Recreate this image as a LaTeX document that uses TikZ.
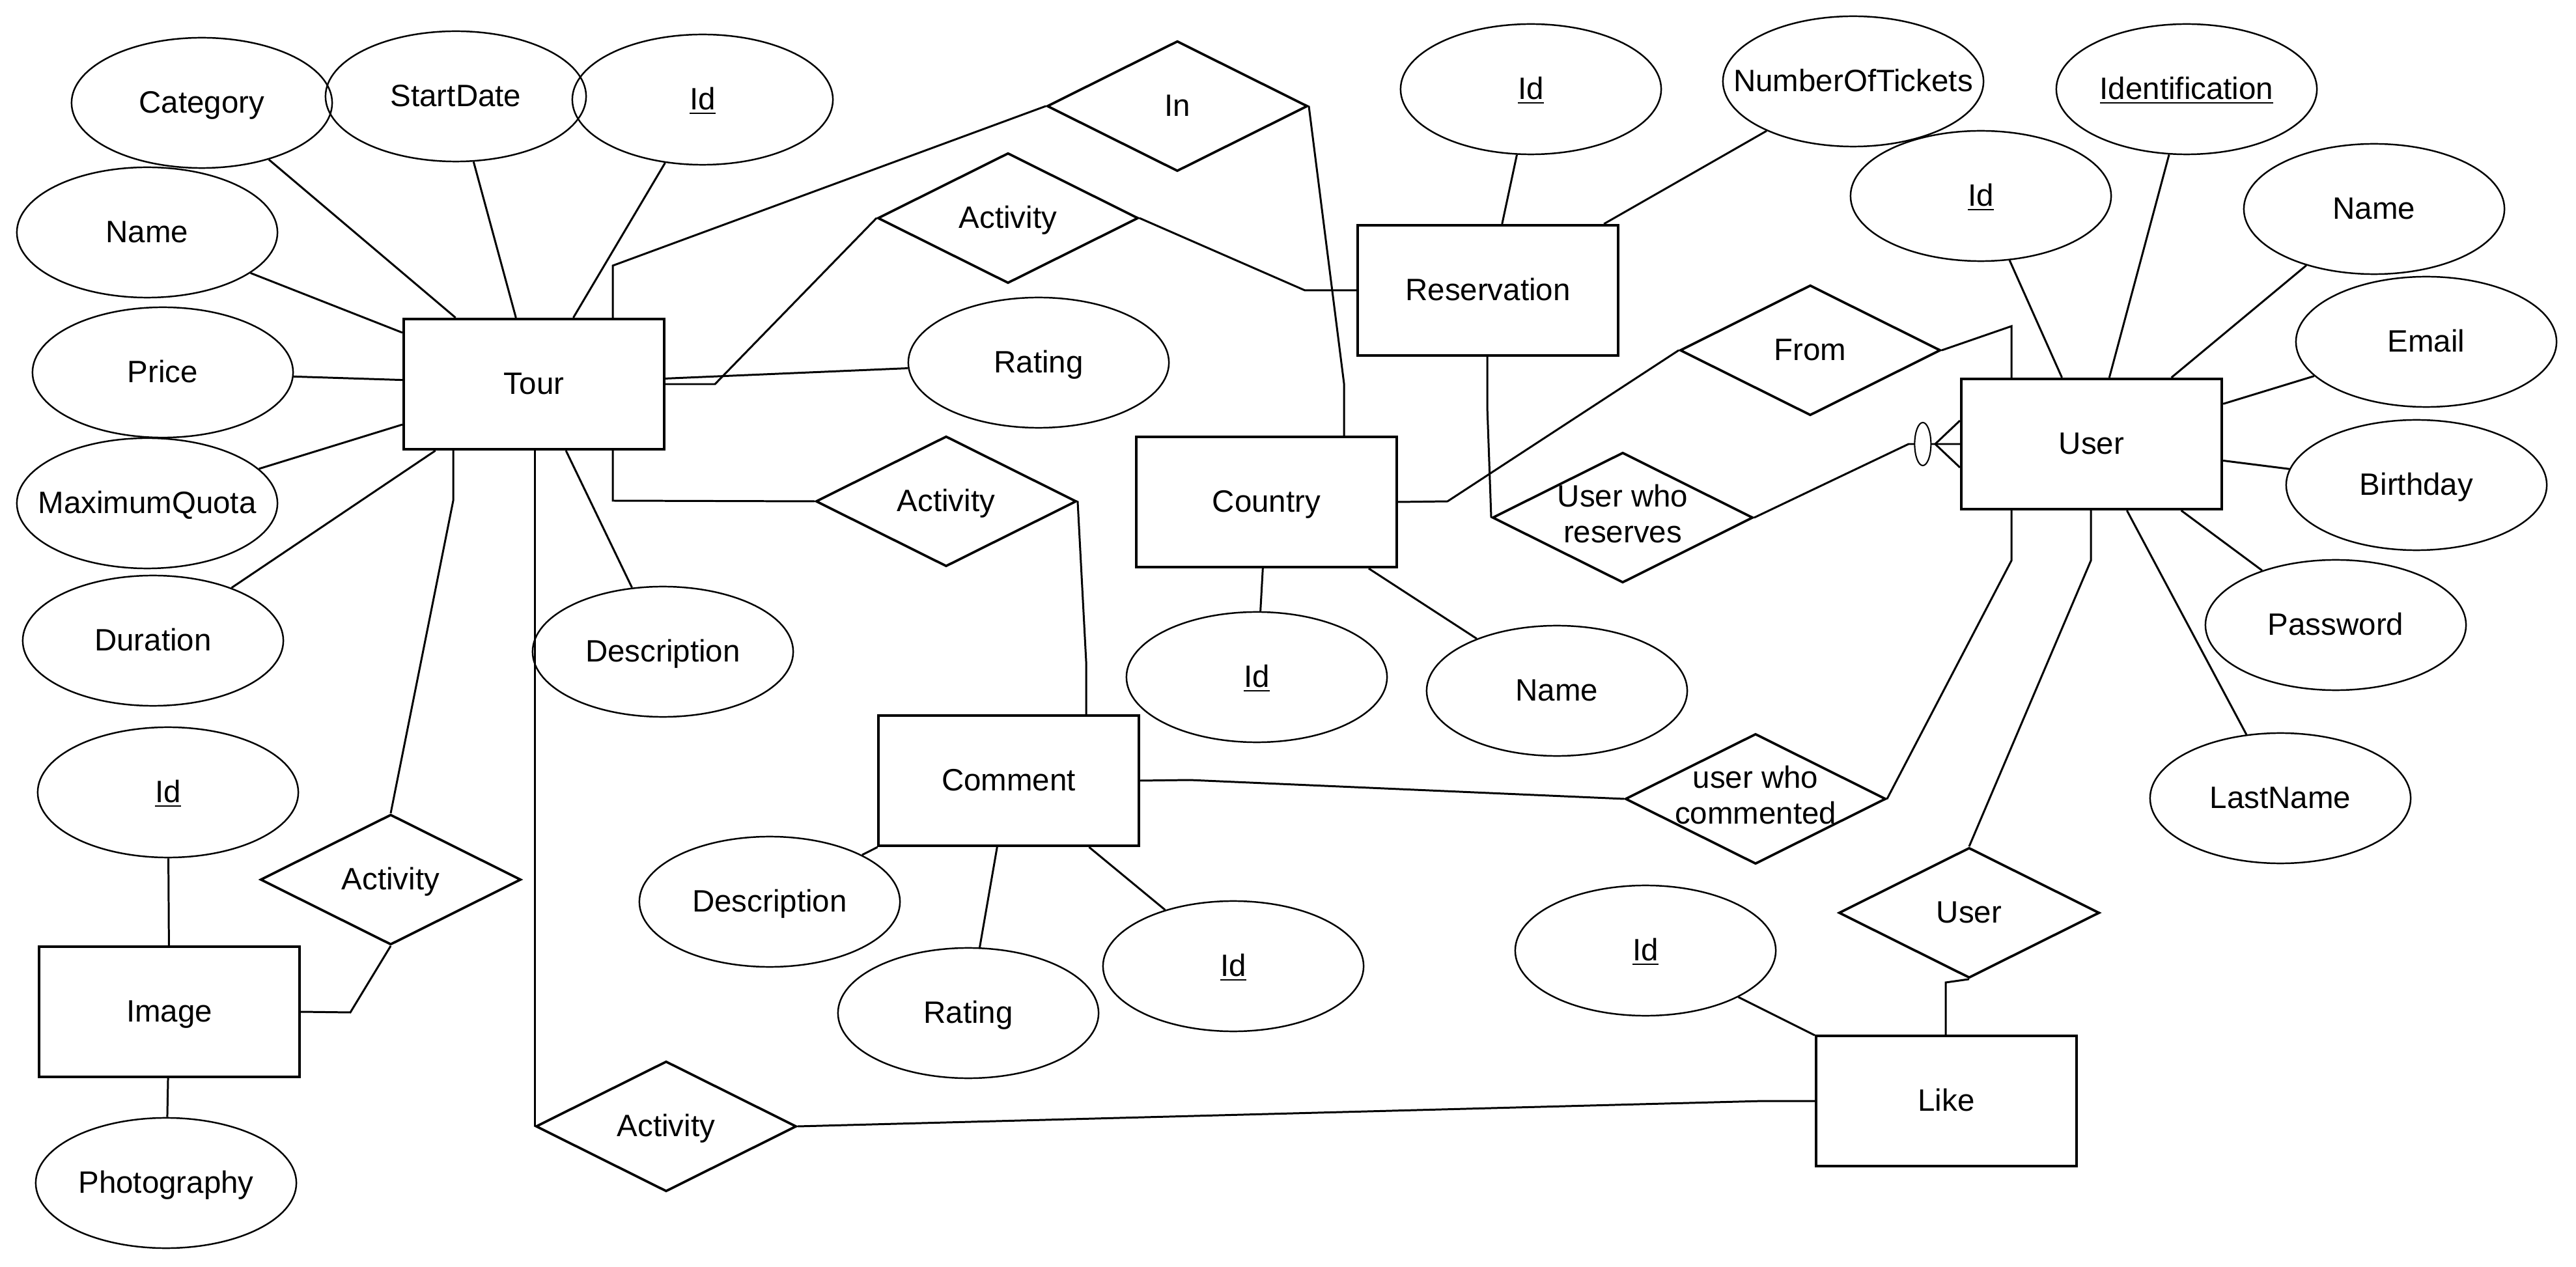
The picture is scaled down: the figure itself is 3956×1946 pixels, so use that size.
\documentclass[tikz,border=0pt]{standalone}
\usepackage{fontspec}
\setmainfont{Liberation Sans}
\usetikzlibrary{shapes.geometric,calc}
\newcommand{\ztxt}[1]{\makebox[0pt][c]{\raisebox{-0.045cm}[0.7\baselineskip][0.3\baselineskip]{#1}}}
\newcommand{\ztwo}[2]{\makebox[0pt][c]{\begin{tabular}{@{}c@{}}#1\\#2\end{tabular}}}
\begin{document}
\begin{tikzpicture}[x=0.01cm,y=-0.01cm,
 every node/.style={font=\fontsize{13.5}{15.8}\selectfont, inner sep=0pt},
 ent/.style={draw, rectangle, minimum width=4cm, minimum height=2cm, line width=1.15pt},
 attr/.style={draw, ellipse, minimum width=4cm, minimum height=2cm, line width=0.7pt},
 rel/.style={draw, diamond, minimum width=4cm, minimum height=2cm, line width=1.05pt},
 conn/.style={line width=0.85pt}]
\fill[white] (0,0) rectangle (3956,1946);
\useasboundingbox (0,0) rectangle (3956,1946);

% entities
\node[ent] (tour) at (820,590) {\ztxt{Tour}};
\node[ent] (image) at (260,1554) {\ztxt{Image}};
\node[ent] (comment) at (1549,1199) {\ztxt{Comment}};
\node[ent] (country) at (1945,771) {\ztxt{Country}};
\node[ent] (res) at (2285,446) {\ztxt{Reservation}};
\node[ent] (user) at (3212,682) {\ztxt{User}};
\node[ent] (like) at (2989,1691) {\ztxt{Like}};

% relationships
\node[rel] (in) at (1808,163) {\ztxt{In}};
\node[rel] (actR) at (1548,335) {\ztxt{Activity}};
\node[rel] (actC) at (1453,770) {\ztxt{Activity}};
\node[rel] (actI) at (600,1351) {\ztxt{Activity}};
\node[rel] (actL) at (1023,1730) {\ztxt{Activity}};
\node[rel] (from) at (2780,538) {\ztxt{From}};
\node[rel] (urs) at (2492,795) {\ztwo{User who}{reserves}};
\node[rel] (ucom) at (2696,1227) {\ztwo{user who}{commented}};
\node[rel] (ulike) at (3024,1402) {\ztxt{User}};

% attributes
\node[attr] (cat) at (310,158) {\ztxt{Category}};
\node[attr] (sd) at (700,148) {\ztxt{StartDate}};
\node[attr] (tid) at (1079,153) {\ztxt{\underline{Id}}};
\node[attr] (tname) at (226,357) {\ztxt{Name}};
\node[attr] (price) at (250,572) {\ztxt{Price}};
\node[attr] (mq) at (226,773) {\ztxt{MaximumQuota}};
\node[attr] (dur) at (235,984) {\ztxt{Duration}};
\node[attr] (tdesc) at (1018,1001) {\ztxt{Description}};
\node[attr] (trat) at (1595,557) {\ztxt{Rating}};
\node[attr] (iid) at (258,1217) {\ztxt{\underline{Id}}};
\node[attr] (photo) at (255,1817) {\ztxt{Photography}};
\node[attr] (cdesc) at (1182,1385) {\ztxt{Description}};
\node[attr] (crat) at (1487,1556) {\ztxt{Rating}};
\node[attr] (cid) at (1894,1484) {\ztxt{\underline{Id}}};
\node[attr] (coid) at (1930,1040) {\ztxt{\underline{Id}}};
\node[attr] (coname) at (2391,1061) {\ztxt{Name}};
\node[attr] (rid) at (2351,137) {\ztxt{\underline{Id}}};
\node[attr] (not) at (2846,125) {\ztxt{NumberOfTickets}};
\node[attr] (uid) at (3042,301) {\ztxt{\underline{Id}}};
\node[attr] (ident) at (3358,137) {\ztxt{\underline{Identification}}};
\node[attr] (uname) at (3646,321) {\ztxt{Name}};
\node[attr] (email) at (3726,525) {\ztxt{Email}};
\node[attr] (bday) at (3711,745) {\ztxt{Birthday}};
\node[attr] (pw) at (3587,960) {\ztxt{Password}};
\node[attr] (lname) at (3502,1226) {\ztxt{LastName}};
\node[attr] (lid) at (2527,1460) {\ztxt{\underline{Id}}};

% attribute links
\foreach \a in {cat,sd,tid,tname,price,mq,dur,tdesc,trat} \draw[conn] (\a) -- (tour);
\foreach \a in {iid,photo} \draw[conn] (\a) -- (image);
\foreach \a in {cdesc,crat,cid} \draw[conn] (\a) -- (comment);
\foreach \a in {coid,coname} \draw[conn] (\a) -- (country);
\foreach \a in {rid,not} \draw[conn] (\a) -- (res);
\foreach \a in {uid,ident,uname,email,bday,pw,lname} \draw[conn] (\a) -- (user);
\draw[conn] (lid) -- (like);

% bend points
\coordinate (b1) at (941,408);
\coordinate (b2) at (2064,589);
\coordinate (b3) at (1098,590);
\coordinate (b4) at (2004,446);
\coordinate (b5) at (941,769);
\coordinate (b6) at (1668,1016);
\coordinate (b7) at (696,769);
\coordinate (b8) at (538,1555);
\coordinate (b9) at (2708,1691);
\coordinate (b10) at (1827,1198);
\coordinate (b11) at (3089,861);
\coordinate (b12) at (2223,770);
\coordinate (b13) at (3089,501);
\coordinate (b14) at (2284,625);
\coordinate (b15) at (2931,682);
\coordinate (b16) at (3211,861);
\coordinate (b17) at (2988,1509);

% relationship links
\draw[conn] (b1 |- tour.north) -- (b1) -- (in.west);
\draw[conn] (in.east) -- (b2) -- (b2 |- country.north);
\draw[conn] (tour.east) -- (b3) -- (actR.west);
\draw[conn] (actR.east) -- (b4) -- (res.west);
\draw[conn] (b5 |- tour.south) -- (b5) -- (actC.west);
\draw[conn] (actC.east) -- (b6) -- (b6 |- comment.north);
\draw[conn] (b7 |- tour.south) -- (b7) -- (actI.north);
\draw[conn] (actI.south) -- (b8) -- (image.east);
\draw[conn] (actL.west |- tour.south) -- (actL.west);
\draw[conn] (actL.east) -- (b9) -- (like.west);
\draw[conn] (comment.east) -- (b10) -- (ucom.west);
\draw[conn] (ucom.east) -- (b11) -- (b11 |- user.south);
\draw[conn] (country.east) -- (b12) -- (from.west);
\draw[conn] (from.east) -- (b13) -- (b13 |- user.north);
\draw[conn] (b14 |- res.south) -- (b14) -- (urs.west);
\draw[conn] (urs.east) -- (b15) -- (user.west);
\draw[conn] (b16 |- user.south) -- (b16) -- (ulike.north);
\draw[conn] (ulike.south) -- (b17) -- (b17 |- like.north);

% zero-or-many marker at User
\coordinate (cft) at ($(user.west)+(-38,0)$);
\draw[conn] (cft) -- ($(user.west)+(0,-36)$);
\draw[conn] (cft) -- ($(user.west)+(0,36)$);
\node[draw, ellipse, fill=white, minimum width=0.25cm, minimum height=0.66cm, line width=0.6pt] (zero) at ($(user.west)+(-57,0)$) {};
\end{tikzpicture}
\end{document}
